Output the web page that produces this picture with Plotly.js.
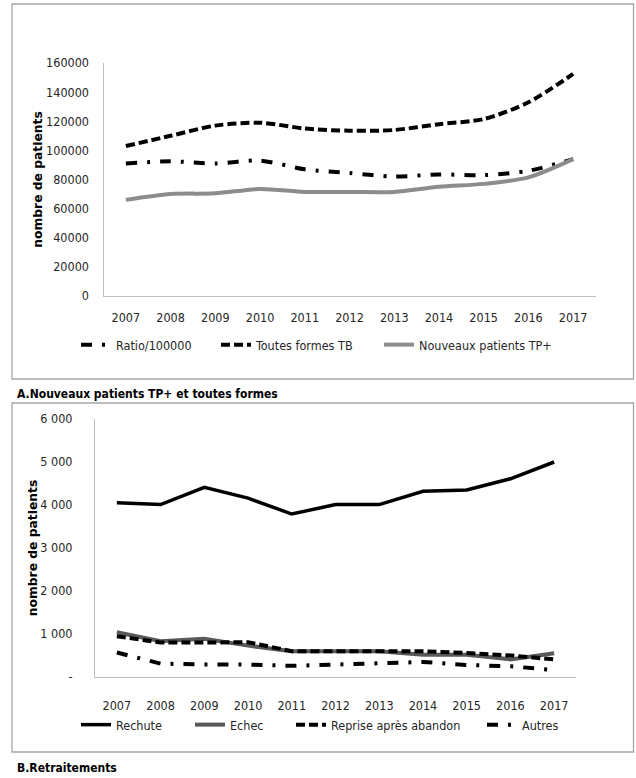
<!DOCTYPE html>
<html>
<head>
<meta charset="utf-8">
<script src="https://cdn.plot.ly/plotly-3.0.1.min.js"></script>
<style>
  html, body { margin: 0; padding: 0; background: #ffffff; }
  #chart { width: 636px; height: 778px; }
</style>
</head>
<body>
<div id="chart"></div>
<script>
// Années communes aux deux panneaux
const years = ['2007', '2008', '2009', '2010', '2011', '2012', '2013', '2014', '2015', '2016', '2017'];

// A. Nouveaux patients TP+ et toutes formes
const ratio100000 = [91000, 92500, 91000, 93000, 87000, 84500, 82000, 83500, 83000, 86000, 94000];
const toutesFormesTB = [103000, 110000, 117000, 119000, 115000, 113500, 114000, 118000, 121500, 133000, 152500];
const nouveauxTPplus = [66000, 70000, 70500, 73500, 71500, 71500, 71500, 75000, 77000, 81500, 94000];

// B. Retraitements
const rechute = [4050, 4010, 4410, 4160, 3790, 4010, 4010, 4320, 4350, 4610, 5000];
const echec = [1040, 830, 890, 730, 600, 600, 600, 520, 520, 410, 550];
const repriseApresAbandon = [950, 800, 800, 810, 600, 600, 600, 600, 560, 500, 410];
const autres = [570, 310, 290, 290, 260, 290, 320, 350, 280, 250, 160];

// Graduations de l'axe vertical du panneau B
const ticksB = [0, 1000, 2000, 3000, 4000, 5000, 6000];
const tickLabelsB = ['-', '1 000', '2 000', '3 000', '4 000', '5 000', '6 000'];

const W = 636, H = 778;
const px = v => v / W;          // pixel -> paper x
const py = v => 1 - v / H;      // pixel -> paper y

const narrow = 'Liberation Sans Narrow, DejaVu Sans Condensed, Arial Narrow, sans-serif';
const tickFont = { family: narrow, size: 12.5, color: '#262626' };
const titleFont = { family: 'DejaVu Sans, Verdana, sans-serif', size: 12.3, color: '#000000', weight: 'bold' };
const captionFont = { family: narrow, size: 12, color: '#000000' };
const axisGray = '#bfbfbf';

const dashDot = '11px,10px,3px,10px';
const dashed = '9px,4px';

const traces = [
  { x: years, y: ratio100000, name: 'Ratio/100000', type: 'scatter', mode: 'lines',
    xaxis: 'x', yaxis: 'y', legend: 'legend',
    line: { color: '#000000', width: 4, dash: dashDot, shape: 'spline', smoothing: 0.8 } },
  { x: years, y: toutesFormesTB, name: 'Toutes formes TB', type: 'scatter', mode: 'lines',
    xaxis: 'x', yaxis: 'y', legend: 'legend2',
    line: { color: '#000000', width: 4, dash: dashed, shape: 'spline', smoothing: 0.8 } },
  { x: years, y: nouveauxTPplus, name: 'Nouveaux patients TP+', type: 'scatter', mode: 'lines',
    xaxis: 'x', yaxis: 'y', legend: 'legend3',
    line: { color: '#8c8c8c', width: 4, shape: 'spline', smoothing: 0.8 } },

  { x: years, y: rechute, name: 'Rechute', type: 'scatter', mode: 'lines',
    xaxis: 'x2', yaxis: 'y2', legend: 'legend4',
    line: { color: '#000000', width: 3.5 } },
  { x: years, y: echec, name: 'Echec', type: 'scatter', mode: 'lines',
    xaxis: 'x2', yaxis: 'y2', legend: 'legend5',
    line: { color: '#595959', width: 4 } },
  { x: years, y: repriseApresAbandon, name: 'Reprise après abandon', type: 'scatter', mode: 'lines',
    xaxis: 'x2', yaxis: 'y2', legend: 'legend6',
    line: { color: '#000000', width: 4, dash: dashed } },
  { x: years, y: autres, name: 'Autres', type: 'scatter', mode: 'lines',
    xaxis: 'x2', yaxis: 'y2', legend: 'legend7',
    line: { color: '#000000', width: 4, dash: dashDot } }
];

function legendAt(xPix, yPix) {
  return {
    x: px(xPix), y: py(yPix), xanchor: 'left', yanchor: 'middle',
    orientation: 'h', bgcolor: 'rgba(0,0,0,0)', borderwidth: 0,
    font: tickFont, itemwidth: 30
  };
}

const catAxis = {
  type: 'category', range: [-0.5, 10.5], showline: true, linecolor: axisGray, linewidth: 1,
  ticks: '', showgrid: false, zeroline: false, tickfont: tickFont, fixedrange: true
};

const layout = {
  width: W, height: H,
  margin: { l: 0, r: 0, t: 0, b: 0 },
  paper_bgcolor: '#ffffff', plot_bgcolor: '#ffffff',
  showlegend: true,

  xaxis: Object.assign({}, catAxis, {
    domain: [px(103.5), px(595.5)], anchor: 'y', ticklabelstandoff: 10
  }),
  yaxis: {
    domain: [py(296), py(63)], anchor: 'x', range: [0, 160000], dtick: 20000,
    tickformat: 'd', showline: true, linecolor: axisGray, linewidth: 1, ticks: '',
    showgrid: false, zeroline: false, tickfont: tickFont, ticklabelstandoff: 11,
    title: { text: 'nombre de patients', font: titleFont, standoff: 0 }, fixedrange: true
  },

  xaxis2: Object.assign({}, catAxis, {
    domain: [px(95), px(576)], anchor: 'y2', ticklabelstandoff: 17
  }),
  yaxis2: {
    domain: [py(677), py(419)], anchor: 'x2', range: [0, 6000],
    tickmode: 'array', tickvals: ticksB, ticktext: tickLabelsB,
    showline: true, linecolor: axisGray, linewidth: 1, ticks: '',
    showgrid: false, zeroline: false, tickfont: tickFont, ticklabelstandoff: 19,
    title: { text: 'nombre de patients', font: titleFont, standoff: 0 }, fixedrange: true
  },

  legend: legendAt(76, 345),
  legend2: legendAt(216, 345),
  legend3: legendAt(379, 345),
  legend4: legendAt(76, 725),
  legend5: legendAt(190, 725),
  legend6: legendAt(291, 725),
  legend7: legendAt(482, 725),

  shapes: [
    { type: 'rect', xref: 'paper', yref: 'paper',
      x0: px(12), x1: px(633.5), y0: py(379), y1: py(4),
      line: { color: '#a6a6a6', width: 1.3 }, fillcolor: 'rgba(0,0,0,0)' },
    { type: 'rect', xref: 'paper', yref: 'paper',
      x0: px(12), x1: px(633.5), y0: py(752), y1: py(403),
      line: { color: '#a6a6a6', width: 1.3 }, fillcolor: 'rgba(0,0,0,0)' }
  ],

  annotations: [
    { xref: 'paper', yref: 'paper', x: px(15), y: py(394), xanchor: 'left', yanchor: 'middle',
      showarrow: false, text: '<b>A.Nouveaux patients TP+ et toutes formes</b>', font: captionFont },
    { xref: 'paper', yref: 'paper', x: px(15), y: py(768), xanchor: 'left', yanchor: 'middle',
      showarrow: false, text: '<b>B.Retraitements</b>', font: captionFont }
  ]
};

Plotly.newPlot('chart', traces, layout, { displayModeBar: false, staticPlot: true });
</script>
</body>
</html>
